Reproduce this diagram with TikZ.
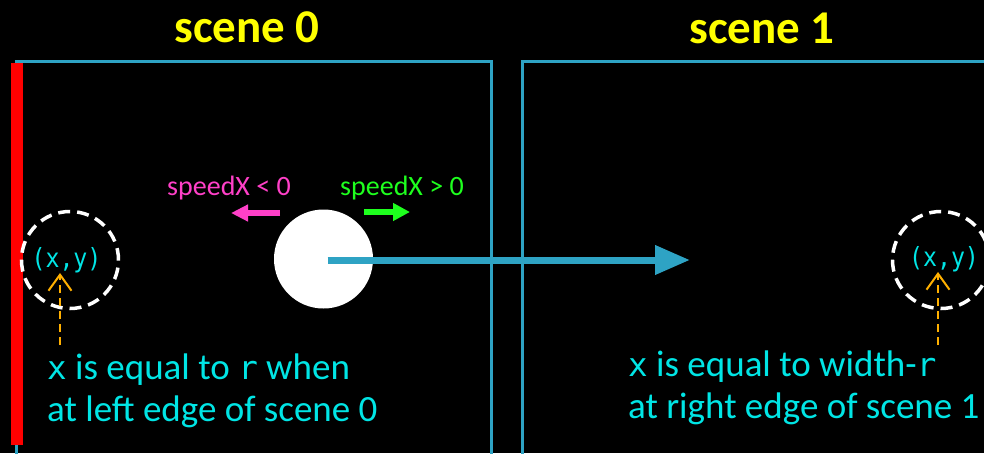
\documentclass[tikz,border=0pt]{standalone}
\usepackage{fontspec}
\setmainfont{Carlito}
\newfontfamily\codefont[Scale=0.88]{DejaVu Sans Mono}
\usetikzlibrary{arrows.meta,positioning}
\definecolor{frameblue}{RGB}{46,163,196}
\definecolor{txtcyan}{RGB}{0,229,229}
\definecolor{hotpink}{RGB}{255,64,200}
\definecolor{brightgreen}{RGB}{30,255,30}
\definecolor{sceneyellow}{RGB}{255,255,0}
\definecolor{dashorange}{RGB}{255,176,0}

\begin{document}
\begin{tikzpicture}[x=1pt,y=-1pt,>=Stealth,
  title/.style={text=sceneyellow,font=\bfseries\fontsize{47}{47}\selectfont,anchor=base,inner sep=0pt},
  speed/.style={font=\fontsize{28}{28}\selectfont,inner sep=0pt},
  note/.style={text=txtcyan,font=\fontsize{37}{42}\selectfont,align=left,inner sep=0pt,anchor=north west},
  coordtxt/.style={text=txtcyan,font=\codefont\fontsize{30}{30}\selectfont,inner sep=0pt},
  halo/.style={draw=white,line width=3.5pt,dash pattern=on 12pt off 7pt,circle,minimum size=97pt,inner sep=0pt},
  pointer/.style={dashorange,line width=2pt,dash pattern=on 8pt off 5pt,-{Straight Barb[length=16pt,width=23pt]}}]
  \fill[black] (0,0) rectangle (984,453);
  \clip (0,0) rectangle (984,453);
  % the two scenes
  \draw[frameblue,line width=3pt] (16,470) |- (491,61) -- (491,470);
  \draw[frameblue,line width=3pt] (522,470) |- (1000,61);
  \fill[red] (11,63) rectangle (23,445);
  \node[title] (t0) at (247,42) {scene 0};
  \node[title] (t1) at (762,43) {scene 1};
  % ball and its motion
  \node[circle,fill=white,minimum size=99pt,inner sep=0pt] (ball) at (323.5,259) {};
  \coordinate (hit) at (690,260);
  \draw[frameblue,line width=7pt,-{Triangle[length=35pt,width=28pt]}] ([xshift=4pt,yshift=-1pt]ball.center) -- (hit);
  \node[speed,text=hotpink] (neg) at (229,188) {speedX < 0};
  \node[speed,text=brightgreen] (posv) at (402,188) {speedX > 0};
  \coordinate (neg0) at (280,213);
  \coordinate (neg1) at (231,213);
  \coordinate (pos0) at (364,212);
  \coordinate (pos1) at (410,212);
  \draw[hotpink,line width=6pt,-{Triangle[length=17pt,width=16pt]}] (neg0) -- (neg1);
  \draw[brightgreen,line width=6pt,-{Triangle[length=17pt,width=17pt]}] (pos0) -- (pos1);
  % left edge of scene 0
  \node[halo] (h0) at (70,260) {};
  \node[coordtxt] (p0) at (66.5,260) {\scalebox{0.88}[1]{(x,y)}};
  \node[note] (n0) at (47,354) {{\codefont x} is equal to {\codefont r} when\\at left edge of scene 0};
  \coordinate (a0) at (60,345);
  \draw[pointer] (a0) -- (a0 |- p0.south);
  % right edge of scene 1
  \node[halo] (h1) at (941,260) {};
  \node[coordtxt] (p1) at (944,259) {\scalebox{0.88}[1]{(x,y)}};
  \node[note] (n1) at (628,351) {{\codefont x} is equal to width-{\codefont r}\\at right edge of scene 1};
  \coordinate (a1) at (938,345);
  \draw[pointer] (a1) -- (a1 |- p1.south);
\end{tikzpicture}
\end{document}
